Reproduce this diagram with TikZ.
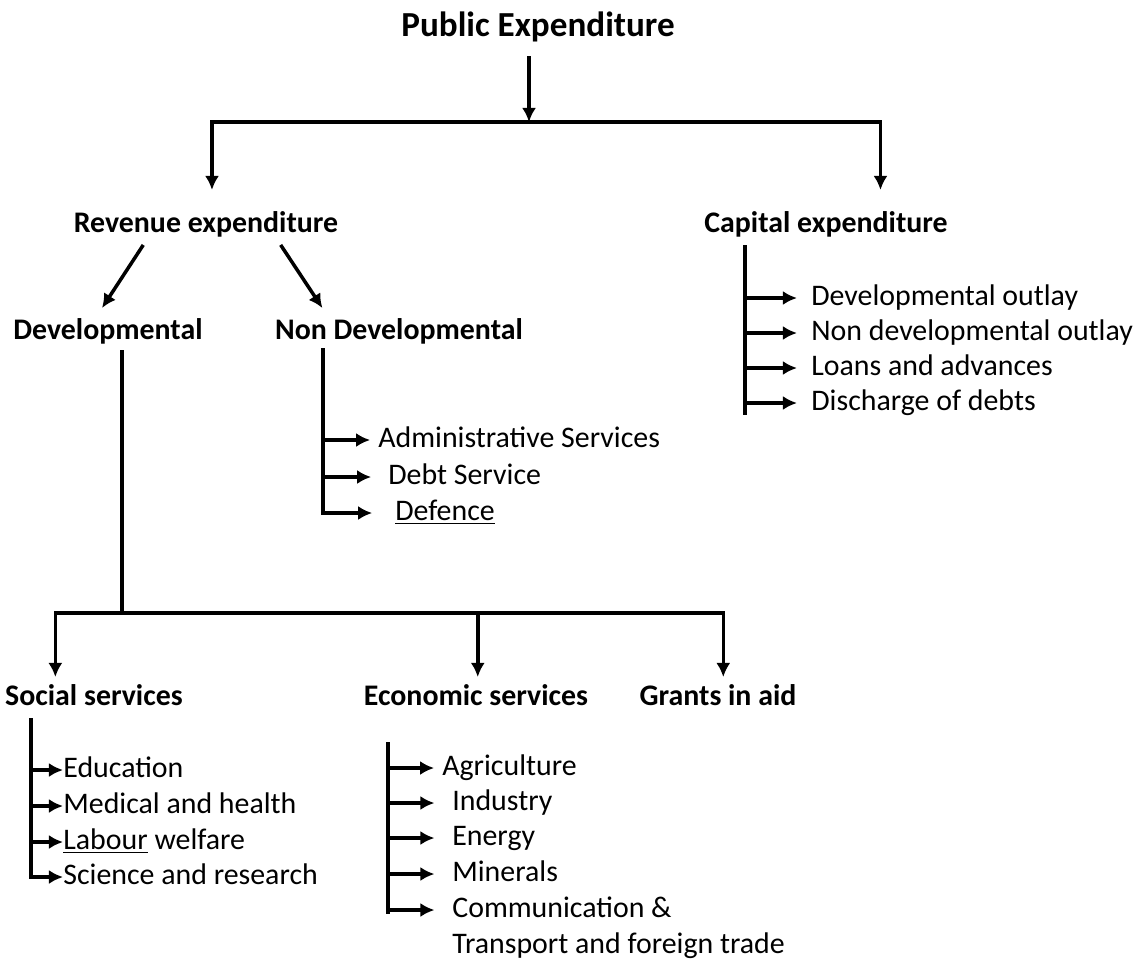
\documentclass[tikz,border=0pt]{standalone}
\usepackage{fontspec}
\setmainfont{Carlito}
\usetikzlibrary{arrows.meta}

\begin{document}
\begin{tikzpicture}[x = 0.02cm, y = -0.02cm,
        head/.style = {font = \bfseries\fontsize{17}{19}\selectfont, inner sep = 0pt, text height = 12pt, text depth = 3.5pt},
        item/.style = {font = \fontsize{17}{19}\selectfont, inner sep = 0pt, anchor = west, text height = 12pt, text depth = 3.5pt},
        bar/.style = {line width = 2pt},
        link/.style = {line width = 2pt, -{Latex[length = 8pt, width = 8pt]}}]
        \useasboundingbox (0,0) rectangle (1135,964);
        
        % top level
        \node[head, font = \bfseries\fontsize{20}{22}\selectfont, text height = 14pt, text depth = 4pt] (pub) at (538,28) {Public Expenditure};
        \node[head] (rev) at (206,225) {Revenue expenditure};
        \node[head] (cap) at (826,225) {Capital expenditure};
        \coordinate (split) at (529,122);
        \draw[link, shorten <= 7pt] (split |- pub.south) -- (split);
        \draw[link, shorten >= 12pt] (split) -| ([xshift = 3.4pt]rev.north);
        \draw[link, shorten >= 12pt] (split) -| ([xshift = 31pt]cap.north);
        
        % revenue expenditure
        \node[head] (dev) at (108,332) {Developmental};
        \node[head] (nondev) at (399,332) {Non Developmental};
        \draw[link] ([xshift = -35.7pt, yshift = -3.4pt]rev.south) -- ([xshift = -3.4pt, yshift = 5.7pt]dev.north);
        \draw[link] ([xshift = 42.5pt, yshift = -3.4pt]rev.south) -- ([xshift = -43.6pt, yshift = 5.7pt]nondev.north);
        
        % capital expenditure
        \coordinate (captop) at (745,245);
        \coordinate (capend) at (745,415);
        \node[item] (c1) at (811,298) {Developmental outlay};
        \node[item] (c2) at (811,333) {Non developmental outlay};
        \node[item] (c3) at (811,368) {Loans and advances};
        \node[item] (c4) at (811,403) {Discharge of debts};
        \draw[bar] (captop) -- (capend);
        \draw[link, shorten >= 8pt] (captop |- c1) -- (c1);
        \draw[link, shorten >= 8pt] (captop |- c2) -- (c2);
        \draw[link, shorten >= 8pt] (captop |- c3) -- (c3);
        \draw[link, shorten >= 8pt] (captop |- c4) -- (c4);
        
        % non developmental
        \coordinate (ndtop) at (323,348);
        \node[item] (n1) at (378,440) {Administrative Services};
        \node[item] (n2) at (388,477) {Debt Service};
        \node[item] (n3) at (395,513) {\underline{Defence}};
        \draw[link, shorten >= 13pt] (ndtop) |- (n3);
        \draw[link, shorten >= 4.5pt] (ndtop |- n1) -- (n1);
        \draw[link, shorten >= 9.6pt] (ndtop |- n2) -- (n2);
        
        % developmental
        \coordinate (devtop) at (122,350);
        \coordinate (devbus) at (122,613);
        \node[head] (soc) at (94,698) {Social services};
        \node[head] (eco) at (476,698) {Economic services};
        \node[head] (gra) at (718,698) {Grants in aid};
        \draw[bar] (devtop) -- (devbus);
        \draw[link, shorten >= 4pt] (devbus) -| ([xshift = -22pt]soc.north);
        \draw[link, shorten >= 4pt] (devbus) -| ([xshift = 1pt]eco.north);
        \draw[link, shorten >= 4pt] (devbus) -| ([xshift = 3pt]gra.north);
        
        % social services
        \coordinate (soctop) at (31,718);
        \node[item] (s1) at (63,770) {Education};
        \node[item] (s2) at (63,806) {Medical and health};
        \node[item] (s3) at (63,842) {\underline{Labour} welfare};
        \node[item] (s4) at (63,877) {Science and research};
        \draw[link] (soctop) |- (s4);
        \draw[link] (soctop |- s1) -- (s1);
        \draw[link] (soctop |- s2) -- (s2);
        \draw[link] (soctop |- s3) -- (s3);
        
        % economic services
        \coordinate (ecotop) at (388,742);
        \coordinate (ecoend) at (388,914);
        \node[item] (e1) at (442,768) {Agriculture};
        \node[item] (e2) at (452,803) {Industry};
        \node[item] (e3) at (452,838) {Energy};
        \node[item] (e4) at (452,874) {Minerals};
        \node[item] (e5) at (452,910) {Communication \&};
        \node[item] (e6) at (452,946) {Transport and foreign trade};
        \draw[bar] (ecotop) -- (ecoend);
        \draw[link, shorten >= 4.5pt] (ecotop |- e1) -- (e1);
        \draw[link, shorten >= 10pt] (ecotop |- e2) -- (e2);
        \draw[link, shorten >= 10pt] (ecotop |- e3) -- (e3);
        \draw[link, shorten >= 10pt] (ecotop |- e4) -- (e4);
        \draw[link, shorten >= 10pt] (ecotop |- e5) -- (e5);
\end{tikzpicture}
\end{document}
